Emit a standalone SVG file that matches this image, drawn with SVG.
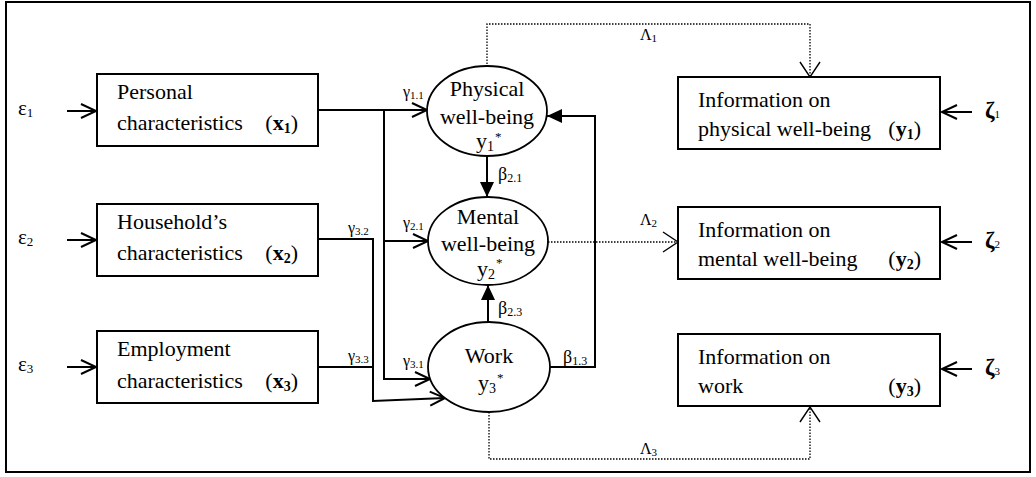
<svg xmlns="http://www.w3.org/2000/svg" width="1036" height="477" viewBox="0 0 1036 477">
<style>
  .t { font-family: "Liberation Serif", "Times New Roman", serif; font-size: 22px; fill: #000; }
  .lab { font-family: "Liberation Serif", "Times New Roman", serif; fill: #000; }
  .box { fill: #fff; stroke: #000; stroke-width: 2; }
  .ell { fill: #fff; stroke: #000; stroke-width: 1.8; }
  .ln { fill: none; stroke: #000; stroke-width: 2; }
  .dot { fill: none; stroke: #000; stroke-width: 1.3; stroke-dasharray: 1.5 1.5; }
  .b { font-weight: bold; }
</style>
<defs>
  <marker id="open" viewBox="-2 -2 20 18" refX="15" refY="7" markerWidth="20" markerHeight="18" orient="auto" markerUnits="userSpaceOnUse">
    <path d="M0,0 L15,7 L0,14" fill="none" stroke="#000" stroke-width="2"/>
  </marker>
  <marker id="openThin" viewBox="-2 -2 20 24" refX="15" refY="10" markerWidth="20" markerHeight="24" orient="auto" markerUnits="userSpaceOnUse">
    <path d="M0,0 L15,10 L0,20" fill="none" stroke="#000" stroke-width="1.4"/>
  </marker>
  <marker id="fill" viewBox="0 0 15 14" refX="15" refY="7" markerWidth="15" markerHeight="14" orient="auto" markerUnits="userSpaceOnUse">
    <path d="M0,0 L15,7 L0,14 Z" fill="#000"/>
  </marker>
</defs>
<rect x="0" y="0" width="1036" height="477" fill="#fff"/>
<rect x="6" y="2" width="1024" height="470" fill="none" stroke="#000" stroke-width="2"/>

<g id="connectors">
  <line class="ln" x1="67" y1="111" x2="96" y2="111" marker-end="url(#open)"/>
  <line class="ln" x1="67" y1="240" x2="96" y2="240" marker-end="url(#open)"/>
  <line class="ln" x1="67" y1="367" x2="96" y2="367" marker-end="url(#open)"/>
  <line class="ln" x1="972" y1="112" x2="942" y2="112" marker-end="url(#open)"/>
  <line class="ln" x1="972" y1="242" x2="942" y2="242" marker-end="url(#open)"/>
  <line class="ln" x1="972" y1="369" x2="942" y2="369" marker-end="url(#open)"/>
  <line class="ln" x1="318" y1="110" x2="427" y2="110" marker-end="url(#open)"/>
  <path class="ln" d="M384,110 V379 H430" marker-end="url(#open)"/>
  <line class="ln" x1="384" y1="241" x2="428" y2="241" marker-end="url(#open)"/>
  <path class="ln" d="M318,239 H373 V401 L445,398" marker-end="url(#open)"/>
  <line class="ln" x1="318" y1="367" x2="373" y2="367"/>
  <line class="ln" x1="487" y1="156" x2="487" y2="197" marker-end="url(#fill)"/>
  <line class="ln" x1="488" y1="323" x2="488" y2="285" marker-end="url(#fill)"/>
  <path class="ln" d="M550,367 H595 V116 H547" marker-end="url(#fill)"/>
  <path class="dot" d="M487,67 V24 H810 V77" marker-end="url(#openThin)"/>
  <line class="dot" x1="548" y1="242" x2="678" y2="242" marker-end="url(#openThin)"/>
  <path class="dot" d="M489,412 V459 H810 V407" marker-end="url(#openThin)"/>
  <text class="lab" x="403" y="97" font-size="16">γ<tspan font-size="11" dy="2">1.1</tspan></text>
  <text class="lab" x="403" y="228" font-size="16">γ<tspan font-size="11" dy="2">2.1</tspan></text>
  <text class="lab" x="403" y="366" font-size="16">γ<tspan font-size="11" dy="2">3.1</tspan></text>
  <text class="lab" x="348" y="233" font-size="16">γ<tspan font-size="11" dy="2">3.2</tspan></text>
  <text class="lab" x="348" y="361" font-size="16">γ<tspan font-size="11" dy="2">3.3</tspan></text>
  <text class="lab" x="498" y="180" font-size="18">β<tspan font-size="12" dy="2">2.1</tspan></text>
  <text class="lab" x="498" y="314" font-size="18">β<tspan font-size="12" dy="2">2.3</tspan></text>
  <text class="lab" x="563" y="363" font-size="18">β<tspan font-size="12" dy="2">1.3</tspan></text>
  <text class="lab" x="640" y="40" font-size="16">Λ<tspan font-size="11" dy="2">1</tspan></text>
  <text class="lab" x="640" y="225" font-size="16">Λ<tspan font-size="11" dy="2">2</tspan></text>
  <text class="lab" x="640" y="454" font-size="16">Λ<tspan font-size="11" dy="2">3</tspan></text>
</g>

<g id="errors">
  <text class="lab" x="18" y="115" font-size="21">ε<tspan font-size="13" dy="2">1</tspan></text>
  <text class="lab" x="18" y="244" font-size="21">ε<tspan font-size="13" dy="2">2</tspan></text>
  <text class="lab" x="18" y="371" font-size="21">ε<tspan font-size="13" dy="2">3</tspan></text>
  <text class="lab b" x="985" y="118" font-size="23">ζ<tspan font-size="11" font-weight="normal">1</tspan></text>
  <text class="lab b" x="985" y="248" font-size="23">ζ<tspan font-size="11" font-weight="normal">2</tspan></text>
  <text class="lab b" x="985" y="375" font-size="23">ζ<tspan font-size="11" font-weight="normal">3</tspan></text>
</g>

<g id="x1">
  <rect class="box" x="97" y="74" width="221" height="72"/>
  <text class="t" x="117" y="99">Personal</text>
  <text class="t" x="117" y="130">characteristics</text>
  <text class="t" x="298" y="130" text-anchor="end">(<tspan class="b">x</tspan><tspan class="b" font-size="14" dy="3">1</tspan><tspan dy="-3">)</tspan></text>
</g>
<g id="x2">
  <rect class="box" x="97" y="204" width="221" height="72"/>
  <text class="t" x="117" y="229">Household’s</text>
  <text class="t" x="117" y="260">characteristics</text>
  <text class="t" x="298" y="260" text-anchor="end">(<tspan class="b">x</tspan><tspan class="b" font-size="14" dy="3">2</tspan><tspan dy="-3">)</tspan></text>
</g>
<g id="x3">
  <rect class="box" x="97" y="331" width="221" height="72"/>
  <text class="t" x="117" y="356">Employment</text>
  <text class="t" x="117" y="388">characteristics</text>
  <text class="t" x="298" y="388" text-anchor="end">(<tspan class="b">x</tspan><tspan class="b" font-size="14" dy="3">3</tspan><tspan dy="-3">)</tspan></text>
</g>

<g id="eta1">
  <ellipse class="ell" cx="487" cy="111" rx="60" ry="45"/>
  <text class="t" x="487" y="96" text-anchor="middle">Physical</text>
  <text class="t" x="487" y="124" text-anchor="middle">well-being</text>
  <text class="t" x="476" y="148">y<tspan font-size="14" dy="3">1</tspan></text>
  <text class="lab" x="495" y="141" font-size="13">*</text>
</g>
<g id="eta2">
  <ellipse class="ell" cx="488" cy="241" rx="60" ry="44"/>
  <text class="t" x="488" y="224" text-anchor="middle">Mental</text>
  <text class="t" x="488" y="251" text-anchor="middle">well-being</text>
  <text class="t" x="477" y="276">y<tspan font-size="14" dy="3">2</tspan></text>
  <text class="lab" x="496" y="267" font-size="13">*</text>
</g>
<g id="eta3">
  <ellipse class="ell" cx="489" cy="367" rx="61" ry="45"/>
  <text class="t" x="489" y="363" text-anchor="middle">Work</text>
  <text class="t" x="478" y="390">y<tspan font-size="14" dy="3">3</tspan></text>
  <text class="lab" x="497" y="382" font-size="13">*</text>
</g>

<g id="y1">
  <rect class="box" x="678" y="77" width="262" height="72"/>
  <text class="t" x="698" y="107">Information on</text>
  <text class="t" x="698" y="136">physical well-being</text>
  <text class="t" x="921" y="136" text-anchor="end">(<tspan class="b">y</tspan><tspan class="b" font-size="14" dy="3">1</tspan><tspan dy="-3">)</tspan></text>
</g>
<g id="y2">
  <rect class="box" x="678" y="207" width="262" height="72"/>
  <text class="t" x="698" y="237">Information on</text>
  <text class="t" x="698" y="266">mental well-being</text>
  <text class="t" x="921" y="266" text-anchor="end">(<tspan class="b">y</tspan><tspan class="b" font-size="14" dy="3">2</tspan><tspan dy="-3">)</tspan></text>
</g>
<g id="y3">
  <rect class="box" x="678" y="334" width="262" height="72"/>
  <text class="t" x="698" y="364">Information on</text>
  <text class="t" x="698" y="393">work</text>
  <text class="t" x="921" y="393" text-anchor="end">(<tspan class="b">y</tspan><tspan class="b" font-size="14" dy="3">3</tspan><tspan dy="-3">)</tspan></text>
</g>
</svg>
